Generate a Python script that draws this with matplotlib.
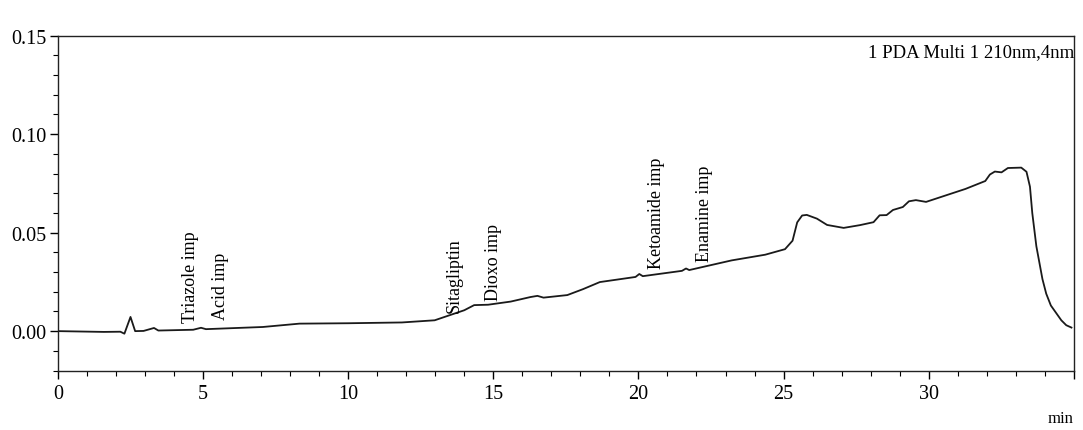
import matplotlib
matplotlib.use("Agg")
import matplotlib.pyplot as plt
from matplotlib.ticker import MultipleLocator

# chromatogram trace (min, AU)
time_min = [0.0, 1.58, 2.15, 2.29, 2.50, 2.66, 2.95, 3.31, 3.46, 4.66, 4.93, 5.10,
            7.06, 8.32, 10.0, 11.85, 12.98, 13.44, 14.00, 14.34, 14.82, 15.60,
            16.28, 16.52, 16.73, 17.55, 18.09, 18.67, 19.90, 20.03, 20.15, 21.50,
            21.64, 21.75, 23.21, 24.37, 25.05, 25.31, 25.47, 25.64, 25.80, 26.15,
            26.50, 27.07, 27.63, 28.10, 28.31, 28.55, 28.77, 29.11, 29.32, 29.56,
            29.91, 30.59, 31.27, 31.95, 32.11, 32.28, 32.51, 32.73, 33.19, 33.37,
            33.49, 33.57, 33.71, 33.92, 34.05, 34.21, 34.57, 34.74, 34.92]
absorb = [0.0, -0.0004, -0.0003, -0.0013, 0.0072, 0.0, 0.0001, 0.0016, 0.0003, 0.0007, 0.0017, 0.0010,
          0.0021, 0.0038, 0.0040, 0.0044, 0.0055, 0.0078, 0.0106, 0.0132, 0.0134, 0.0150,
          0.0173, 0.0179, 0.0170, 0.0183, 0.0213, 0.0249, 0.0275, 0.0290, 0.0279, 0.0306,
          0.0318, 0.0310, 0.0359, 0.0388, 0.0416, 0.0459, 0.0552, 0.0587, 0.0590, 0.0571,
          0.0539, 0.0524, 0.0538, 0.0553, 0.0588, 0.0589, 0.0615, 0.0630, 0.0659, 0.0665,
          0.0656, 0.0689, 0.0722, 0.0762, 0.0795, 0.0810, 0.0806, 0.0828, 0.0830, 0.0809,
          0.0733, 0.0599, 0.0431, 0.0264, 0.0190, 0.0130, 0.0055, 0.0030, 0.0018]

# peak labels
peak_names = ["Triazole imp", "Acid imp", "Sitagliptin", "Dioxo imp", "Ketoamide imp", "Enamine imp"]
peak_time = [4.58, 5.61, 13.66, 15.02, 20.61, 22.28]
peak_label_y = [0.0046, 0.0060, 0.0099, 0.0160, 0.0322, 0.0354]

x_ticks = [0, 5, 10, 15, 20, 25, 30, 35]
x_tick_labels = ["0", "5", "10", "15", "20", "25", "30", ""]
y_ticks = [0.00, 0.05, 0.10, 0.15]
y_tick_labels = ["0.00", "0.05", "0.10", "0.15"]

plt.rcParams['font.family'] = ['Liberation Serif', 'DejaVu Serif']

fig = plt.figure(figsize=(10.83, 4.31), dpi=100)
ax = fig.add_axes([0.0535, 0.138, 0.938, 0.777])

ax.plot(time_min, absorb, color='#1a1a1a', lw=1.3)

for name, t, y in zip(peak_names, peak_time, peak_label_y):
    ax.text(t, y, name, rotation=90, ha='center', va='bottom', fontsize=13)

ax.text(1.0, 0.979, "1 PDA Multi 1 210nm,4nm", transform=ax.transAxes,
        ha='right', va='top', fontsize=13.5)

ax.set_xlim(0, 35)
ax.set_ylim(-0.02, 0.15)
ax.set_xticks(x_ticks)
ax.set_xticklabels(x_tick_labels)
ax.set_yticks(y_ticks)
ax.set_yticklabels(y_tick_labels)
ax.xaxis.set_minor_locator(MultipleLocator(1))
ax.yaxis.set_minor_locator(MultipleLocator(0.01))
ax.tick_params(which='major', direction='out', length=6, width=1, labelsize=14.5, pad=2)
ax.tick_params(which='minor', direction='out', length=3.5, width=0.8)
ax.tick_params(axis='x', which='major', pad=3.5)

for s in ax.spines.values():
    s.set_linewidth(1.0)
    s.set_color('#222222')

ax.set_xlabel("min", loc='right', fontsize=12, labelpad=5)

fig.savefig("out.png", dpi=100)
